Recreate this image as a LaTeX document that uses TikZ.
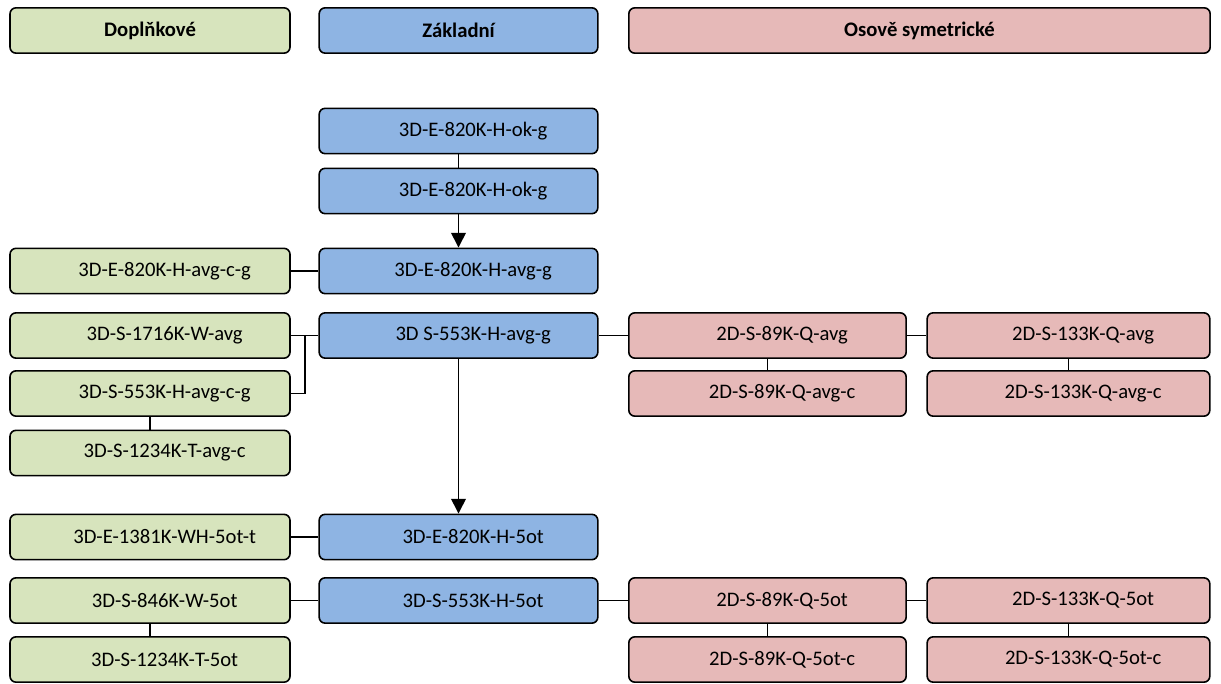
\documentclass[tikz,border=0pt]{standalone}
\usepackage{fontspec}
\setmainfont{Carlito}
\usepackage{xcolor}
\usetikzlibrary{arrows.meta}
\definecolor{dopl}{HTML}{D7E4BD}
\definecolor{zakl}{HTML}{8EB4E3}
\definecolor{osov}{HTML}{E6B9B8}
\tikzset{
  blk/.style={draw=black, line width=1.2pt, rounded corners=4.5pt,
              minimum height=34pt, inner sep=0pt, font=\fontsize{15.5}{18}\selectfont},
  txt/.style={execute at begin node=\hspace*{22pt}},
  hdr/.style={blk, font=\fontsize{15.5}{18}\selectfont\bfseries},
  doplb/.style={blk, txt, fill=dopl, minimum width=210pt},
  zaklb/.style={blk, txt, fill=zakl, minimum width=209pt},
  osovb/.style={blk, txt, fill=osov, minimum width=208pt},
  osovc/.style={blk, txt, fill=osov, minimum width=212pt},
  ln/.style={line width=1.1pt, draw=black},
  ar/.style={ln, -{Triangle[length=11pt,width=11pt]}},
}
\begin{document}
\begin{tikzpicture}[x=0.75pt, y=-0.75pt]
  \useasboundingbox (0,0) rectangle (1221,684);
  % sloupce
  \def\cg{150}    % doplnkove
  \def\cz{458.5}  % zakladni
  \def\cpa{767.5} % osove, prvni
  \def\cpb{1068.5}% osove, druhy

  % --- zahlavi ---
  \node[hdr, fill=dopl, minimum width=210pt] (hd) at (\cg,30.5) {Doplňkové};
  \node[hdr, fill=zakl, minimum width=209pt] (hz) at (\cz,30.5) {Základní};
  \node[hdr, fill=osov, minimum width=436pt] (ho) at (919.5,30.5) {Osově symetrické};

  % --- zakladni ---
  \node[zaklb] (z1) at (\cz,131)   {3D-E-820K-H-ok-g};
  \node[zaklb] (z2) at (\cz,191)   {3D-E-820K-H-ok-g};
  \node[zaklb] (z3) at (\cz,271)   {3D-E-820K-H-avg-g};
  \node[zaklb] (z4) at (\cz,335.5) {3D S-553K-H-avg-g};
  \node[zaklb] (z5) at (\cz,537)   {3D-E-820K-H-5ot};
  \node[zaklb] (z6) at (\cz,600.5) {3D-S-553K-H-5ot};

  % --- doplnkove ---
  \node[doplb] (d1) at (\cg,271)   {3D-E-820K-H-avg-c-g};
  \node[doplb] (d2) at (\cg,335.5) {3D-S-1716K-W-avg};
  \node[doplb] (d3) at (\cg,393.5) {3D-S-553K-H-avg-c-g};
  \node[doplb] (d4) at (\cg,453)   {3D-S-1234K-T-avg-c};
  \node[doplb] (d5) at (\cg,537)   {3D-E-1381K-WH-5ot-t};
  \node[doplb] (d6) at (\cg,600.5) {3D-S-846K-W-5ot};
  \node[doplb] (d7) at (\cg,659.5) {3D-S-1234K-T-5ot};

  % --- osove symetricke ---
  \node[osovb] (o1) at (\cpa,335.5) {2D-S-89K-Q-avg};
  \node[osovc] (o2) at (\cpb,335.5) {2D-S-133K-Q-avg};
  \node[osovb] (o3) at (\cpa,393.5) {2D-S-89K-Q-avg-c};
  \node[osovc] (o4) at (\cpb,393.5) {2D-S-133K-Q-avg-c};
  \node[osovb] (o5) at (\cpa,600.5) {2D-S-89K-Q-5ot};
  \node[osovc] (o6) at (\cpb,600.5) {2D-S-133K-Q-5ot};
  \node[osovb] (o7) at (\cpa,659.5) {2D-S-89K-Q-5ot-c};
  \node[osovc] (o8) at (\cpb,659.5) {2D-S-133K-Q-5ot-c};

  % --- spojnice ---
  \draw[ln] (z1) -- (z2);
  \draw[ar] (z2) -- (z3);
  \draw[ar] (z4) -- (z5);
  \draw[ln] (d1) -- (z3);
  \draw[ln] (d2) -- (z4);
  \draw[ln] (d3.east) -| (305,335.5);
  \draw[ln] (d3) -- (d4);
  \draw[ln] (z4) -- (o1);
  \draw[ln] (o1) -- (o2);
  \draw[ln] (o1) -- (o3);
  \draw[ln] (o2) -- (o4);
  \draw[ln] (d5) -- (z5);
  \draw[ln] (d6) -- (z6);
  \draw[ln] (d6) -- (d7);
  \draw[ln] (z6) -- (o5);
  \draw[ln] (o5) -- (o6);
  \draw[ln] (o5) -- (o7);
  \draw[ln] (o6) -- (o8);
\end{tikzpicture}
\end{document}
